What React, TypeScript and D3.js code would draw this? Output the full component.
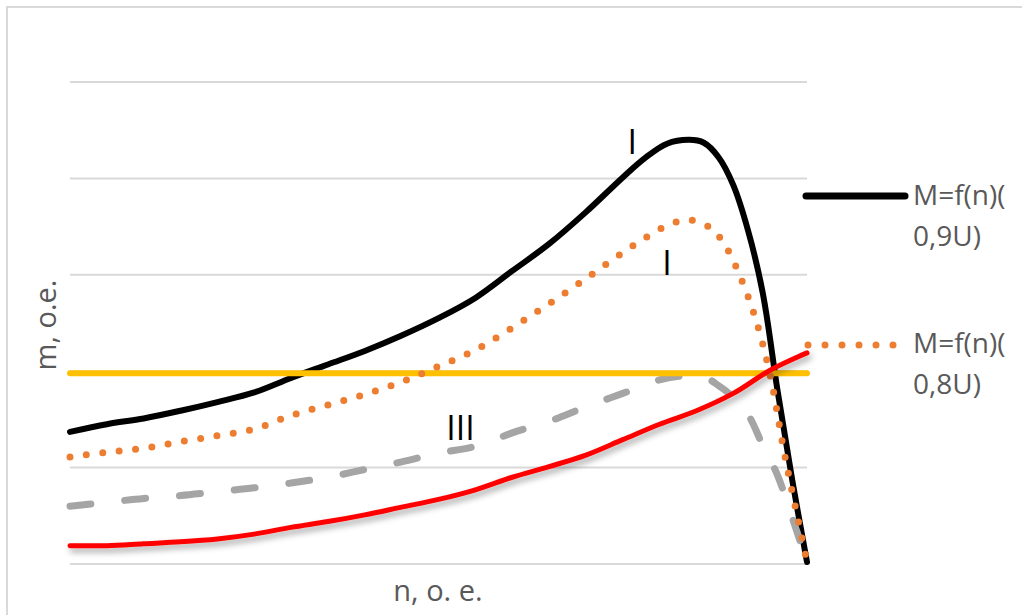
import React from "react";
import * as d3 from "d3";

// n, o.e. along the x axis (0..100), m, o.e. on the y axis (0..5)
const nBlack = [0, 5, 10, 15, 20, 25, 30, 35, 40, 45, 50, 55, 60, 65, 70, 75, 78, 81, 84, 86, 88, 90, 92, 94, 96, 98, 100];
const mBlack = [1.37, 1.45, 1.51, 1.59, 1.68, 1.78, 1.93, 2.07, 2.21, 2.37, 2.55, 2.76, 3.04, 3.32, 3.65, 4.01, 4.21, 4.36, 4.4, 4.37, 4.22, 3.93, 3.46, 2.81, 1.8, 0.87, 0.02];

const nOrange = [0, 5, 10, 15, 20, 25, 30, 35, 40, 45, 50, 55, 60, 65, 70, 75, 78, 81, 84, 87, 89, 91, 93, 95, 97, 100];
const mOrange = [1.11, 1.16, 1.2, 1.27, 1.33, 1.4, 1.54, 1.65, 1.76, 1.89, 2.05, 2.22, 2.45, 2.7, 2.96, 3.23, 3.38, 3.51, 3.57, 3.48, 3.29, 2.97, 2.55, 1.96, 1.12, 0.02];

const nGray = [0, 5, 10, 15, 20, 25, 30, 35, 40, 45, 50, 55, 60, 65, 70, 75, 80, 83, 86, 88, 90, 92, 94, 96, 98, 100];
const mGray = [0.6, 0.64, 0.68, 0.71, 0.75, 0.79, 0.84, 0.9, 0.98, 1.06, 1.15, 1.22, 1.36, 1.48, 1.63, 1.77, 1.91, 1.95, 1.94, 1.85, 1.73, 1.55, 1.23, 0.92, 0.48, 0.02];

const nRed = [0, 5, 10, 15, 20, 25, 30, 35, 40, 45, 50, 55, 60, 65, 70, 75, 80, 85, 90, 95, 100];
const mRed = [0.19, 0.19, 0.21, 0.23, 0.26, 0.31, 0.38, 0.44, 0.51, 0.59, 0.67, 0.77, 0.9, 1.01, 1.13, 1.29, 1.45, 1.59, 1.77, 2.01, 2.19];

const nYellow = [0, 100];
const mYellow = [1.98, 1.98];

const yTicks = [0, 1, 2, 3, 4, 5];

const legendLabels = [
  ["M=f(n)(", "0,9U)"],
  ["M=f(n)(", "0,8U)"],
];

const marks = [
  { text: "I", n: 76.3, m: 4.25 },
  { text: "I", n: 81, m: 3.0 },
  { text: "III", n: 53, m: 1.29 },
];

type Pt = [number, number];
const zip = (ns: number[], ms: number[]): Pt[] => ns.map((n, i) => [n, ms[i]]);

export default function App() {
  const width = 1022;
  const height = 615;
  const plot = { left: 70, right: 807, top: 82, bottom: 564 };

  const x = d3.scaleLinear().domain([0, 100]).range([plot.left, plot.right]);
  const y = d3.scaleLinear().domain([0, 5]).range([plot.bottom, plot.top]);

  const line = d3
    .line<Pt>()
    .x((d) => x(d[0]))
    .y((d) => y(d[1]))
    .curve(d3.curveCatmullRom.alpha(0.5));

  const font = "'Open Sans', 'Noto Sans', sans-serif";
  const textGray = "#595959";

  return (
    <svg
      width={width}
      height={height}
      style={{ position: "absolute", left: 0, top: 0, background: "#fff" }}
    >
      <defs>
        <filter id="shadow" x="-5%" y="-20%" width="110%" height="160%">
          <feDropShadow dx="2" dy="4" stdDeviation="3" floodColor="#000" floodOpacity="0.35" />
        </filter>
      </defs>
      <rect x={7} y={7} width={1040} height={640} fill="#fff" stroke="#d9d9d9" strokeWidth={2} />

      {yTicks.map((t) => (
        <line key={t} x1={plot.left} x2={plot.right} y1={y(t)} y2={y(t)} stroke="#d9d9d9" strokeWidth={2} />
      ))}

      <path d={line(zip(nBlack, mBlack)) || ""} fill="none" stroke="#000" strokeWidth={6} strokeLinejoin="round" strokeLinecap="round" />
      <path d={line(zip(nGray, mGray)) || ""} fill="none" stroke="#a5a5a5" strokeWidth={7} strokeDasharray="21 34" strokeLinecap="round" />
      <path d={line(zip(nYellow, mYellow)) || ""} fill="none" stroke="#ffc000" strokeWidth={6} strokeLinecap="round" />
      <path d={line(zip(nOrange, mOrange)) || ""} fill="none" stroke="#ed7d31" strokeWidth={7} strokeDasharray="0 16.5" strokeLinecap="round" />
      <path d={line(zip(nRed, mRed)) || ""} fill="none" stroke="#ff0000" strokeWidth={5} strokeLinecap="round" filter="url(#shadow)" />

      {marks.map((d, i) => (
        <text key={i} x={x(d.n)} y={y(d.m)} fontFamily={font} fontSize={34} fill="#000" textAnchor="middle">
          {d.text}
        </text>
      ))}

      {/* legend */}
      <line x1={806} x2={905} y1={196} y2={196} stroke="#000" strokeWidth={7} strokeLinecap="round" />
      <line x1={808} x2={895} y1={345} y2={345} stroke="#ed7d31" strokeWidth={7} strokeDasharray="0 17" strokeLinecap="round" />
      {legendLabels.map((lines, i) => (
        <text key={i} x={913} y={i === 0 ? 205 : 353} fontFamily={font} fontSize={28} fill={textGray}>
          <tspan x={913}>{lines[0]}</tspan>
          <tspan x={913} dy={41}>{lines[1]}</tspan>
        </text>
      ))}

      {/* axis titles */}
      <text x={438} y={601} fontFamily={font} fontSize={29} fill={textGray} textAnchor="middle">
        n, o. e.
      </text>
      <text
        transform={`translate(56, 325) rotate(-90)`}
        fontFamily={font}
        fontSize={29}
        fill={textGray}
        textAnchor="middle"
      >
        m, o.e.
      </text>
    </svg>
  );
}
